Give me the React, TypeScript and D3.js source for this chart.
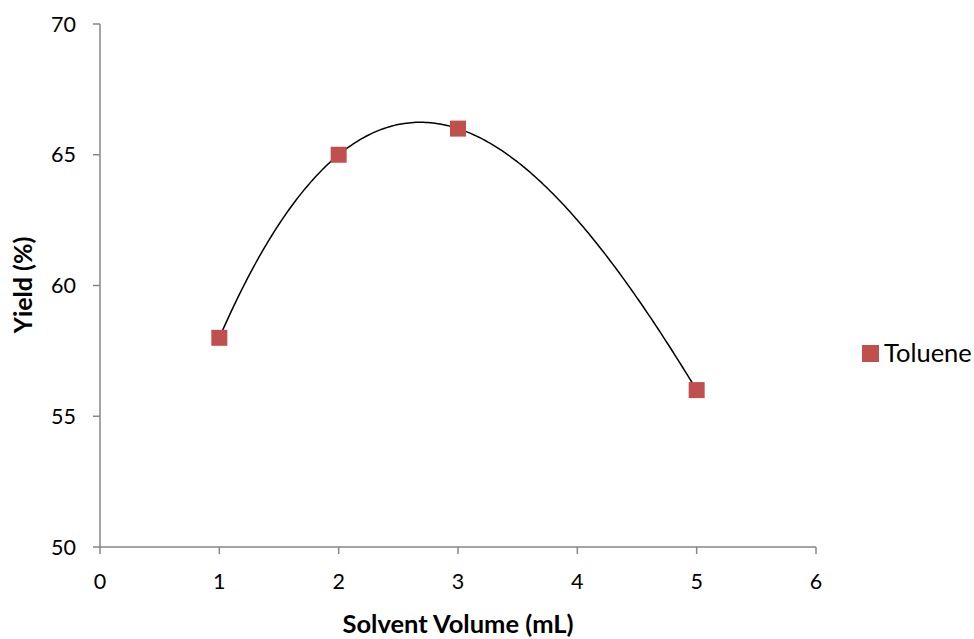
import React from "react";
import * as d3 from "d3";

const xValues = [1, 2, 3, 5];
const yValues = [58, 65, 66, 56];
const xTicks = [0, 1, 2, 3, 4, 5, 6];
const yTicks = [50, 55, 60, 65, 70];
const seriesName = "Toluene";

const W = 974, H = 639;
const left = 100, right = 816, top = 24, bottom = 547;
const FONT = "Lato, 'Open Sans', sans-serif";
const COLOR = "#C0504D";

// polynomial (order 3) trendline through the data = interpolating cubic
function trend(x: number) {
  let s = 0;
  for (let i = 0; i < xValues.length; i++) {
    let t = yValues[i];
    for (let j = 0; j < xValues.length; j++) {
      if (j !== i) t *= (x - xValues[j]) / (xValues[i] - xValues[j]);
    }
    s += t;
  }
  return s;
}

export default function App() {
  const x = d3.scaleLinear().domain([0, 6]).range([left, right]);
  const y = d3.scaleLinear().domain([50, 70]).range([bottom, top]);
  const xs = d3.range(200).map((i) => 1 + (4 * i) / 199);
  const line = d3.line<number>().x((d) => x(d)).y((d) => y(trend(d)));
  const m = 16;
  return (
    <svg width={W} height={H} style={{ position: "absolute", left: 0, top: 0, background: "#fff" }}>
      <rect width={W} height={H} fill="#fff" />
      <g stroke="#868686" strokeWidth={1.5} fill="none">
        <line x1={left} x2={left} y1={top} y2={bottom} />
        <line x1={left} x2={right} y1={bottom} y2={bottom} />
        {yTicks.map((t) => (
          <line key={t} x1={left - 7} x2={left} y1={y(t)} y2={y(t)} />
        ))}
        {xTicks.map((t) => (
          <line key={t} x1={x(t)} x2={x(t)} y1={bottom} y2={bottom + 7} />
        ))}
      </g>
      <g fontFamily={FONT} fontSize={21.5} fill="#000">
        {yTicks.map((t) => (
          <text key={t} x={76} y={y(t)} dy="0.35em" textAnchor="end">{t}</text>
        ))}
        {xTicks.map((t) => (
          <text key={t} x={x(t)} y={589}  textAnchor="middle">{t}</text>
        ))}
      </g>
      <path d={line(xs) || ""} fill="none" stroke="#000" strokeWidth={1.5} />
      {xValues.map((v, i) => (
        <rect key={i} x={x(v) - m / 2} y={y(yValues[i]) - m / 2} width={m} height={m} fill={COLOR} />
      ))}
      <text x={458} y={633} fontFamily={FONT} fontSize={25.5} fontWeight="bold" textAnchor="middle">Solvent Volume (mL)</text>
      <text transform={`translate(32,${285}) rotate(-90)`} fontFamily={FONT} fontSize={25} fontWeight="bold" textAnchor="middle">Yield (%)</text>
      <rect x={862} y={345} width={17} height={17} fill={COLOR} />
      <text x={884} y={362} fontFamily={FONT} fontSize={25.5}>{seriesName}</text>
    </svg>
  );
}
